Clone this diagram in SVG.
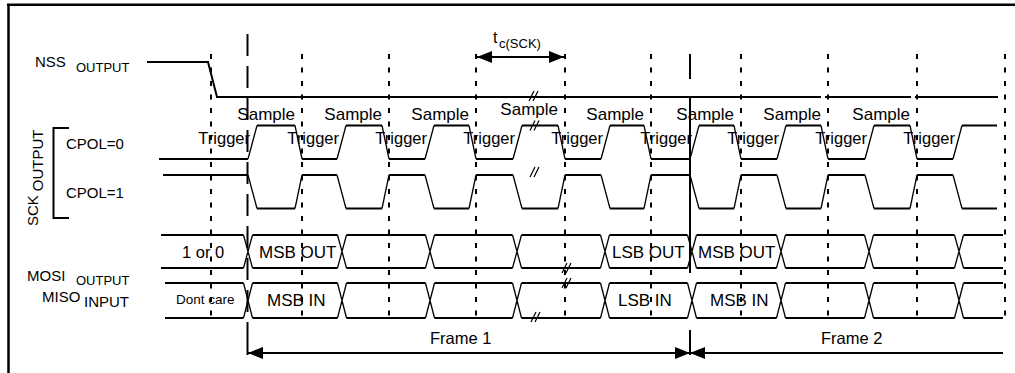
<svg xmlns="http://www.w3.org/2000/svg" width="1015" height="373" viewBox="0 0 1015 373">
<style>
text{font-family:"Liberation Sans",Arial,sans-serif;fill:#000}
.lbl{font-size:15px}
.sub{font-size:13px}
.sm{font-size:17px}
.tg{font-size:16.5px}
.dat{font-size:17px}
.h{fill:none;stroke:#000;stroke-width:2}
.e{fill:none;stroke:#000;stroke-width:1.3}
.dot{stroke:#000;stroke-width:2;stroke-dasharray:5 8.5}
.dash{stroke:#000;stroke-width:2;stroke-dasharray:22 10}
.sol{stroke:#000;stroke-width:2}
.brk{fill:none;stroke:#000;stroke-width:1.2}
.arr{stroke:#000;stroke-width:2;fill:none}
</style>
<defs>
<marker id="ah" markerUnits="userSpaceOnUse" markerWidth="15" markerHeight="12" refX="15" refY="6" orient="auto-start-reverse">
<path d="M0,0 L15,6 L0,12 z" fill="#000"/>
</marker>
<path id="brk" class="brk" d="M-5,5 L0,-5 M-1,5 L4,-5"/>
</defs>

<g id="border">
<path d="M7,4.7 H1015 M8.5,3.5 V373" fill="none" stroke="#000" stroke-width="2.5"/>
</g>

<g id="guides">
<line class="dot" x1="211" y1="54" x2="211" y2="318"/>
<line class="dot" x1="302" y1="54" x2="302" y2="318"/>
<line class="dot" x1="389" y1="54" x2="389" y2="318"/>
<line class="dot" x1="476" y1="54" x2="476" y2="318"/>
<line class="dot" x1="565" y1="54" x2="565" y2="318"/>
<line class="dot" x1="651" y1="54" x2="651" y2="318"/>
<line class="dot" x1="741" y1="54" x2="741" y2="318"/>
<line class="dot" x1="828" y1="54" x2="828" y2="318"/>
<line class="dot" x1="917" y1="54" x2="917" y2="318"/>
<line class="dot" x1="1005" y1="54" x2="1005" y2="318"/>
<line class="dash" x1="247.5" y1="34" x2="247.5" y2="330"/>
<line class="sol" x1="247.5" y1="330" x2="247.5" y2="355"/>
<path class="sol" d="M690,54 V79 M690,97 V273 M690,330 V355"/>
</g>

<g id="nss">
<text class="lbl" x="35" y="67">NSS<tspan class="sub" x="76" y="72">OUTPUT</tspan></text>
<path class="h" d="M147,62 H208 L217,97 H821 M825,97 H911 M915,97 H998"/>
<use href="#brk" x="534" y="96"/>
</g>

<g id="sck">
<text class="lbl" transform="translate(38,226) rotate(-90)">SCK<tspan class="lbl" dx="4" dy="5">OUTPUT</tspan></text>
<path class="h" d="M69,128 H53.5 V218 H69"/>
<text class="lbl" x="66" y="149">CPOL=0</text>
<text class="lbl" x="66" y="198">CPOL=1</text>
<path class="h" d="M159,159H248 M257,125.5H295 M302,159H337 M346,125.5H382 M389,159H425 M434,125.5H469 M476,159H513 M522,125.5H558 M565,159H601 M610,125.5H644 M651,159H690 M699,125.5H734 M741,159H777 M786,125.5H821 M828,159H865 M874,125.5H910 M917,159H953 M962,125.5H997"/>
<path class="e" d="M248,159L257,125.5 M295,125.5L302,159 M337,159L346,125.5 M382,125.5L389,159 M425,159L434,125.5 M469,125.5L476,159 M513,159L522,125.5 M558,125.5L565,159 M601,159L610,125.5 M644,125.5L651,159 M690,159L699,125.5 M734,125.5L741,159 M777,159L786,125.5 M821,125.5L828,159 M865,159L874,125.5 M910,125.5L917,159 M953,159L962,125.5"/>
<path class="h" d="M163,175H248 M257,208.5H295 M302,175H337 M346,208.5H382 M389,175H425 M434,208.5H469 M476,175H513 M522,208.5H558 M565,175H601 M610,208.5H644 M651,175H690 M699,208.5H734 M741,175H777 M786,208.5H821 M828,175H865 M874,208.5H910 M917,175H953 M962,208.5H997"/>
<path class="e" d="M248,175L257,208.5 M295,208.5L302,175 M337,175L346,208.5 M382,208.5L389,175 M425,175L434,208.5 M469,208.5L476,175 M513,175L522,208.5 M558,208.5L565,175 M601,175L610,208.5 M644,208.5L651,175 M690,175L699,208.5 M734,208.5L741,175 M777,175L786,208.5 M821,208.5L828,175 M865,175L874,208.5 M910,208.5L917,175 M953,175L962,208.5"/>
<use href="#brk" x="535" y="125.5"/>
<use href="#brk" x="535" y="172"/>
<g class="sm">
<text text-anchor="end" x="295" y="120">Sample</text>
<text text-anchor="end" x="382" y="120">Sample</text>
<text text-anchor="end" x="469" y="120">Sample</text>
<text text-anchor="end" x="558" y="115">Sample</text>
<text text-anchor="end" x="644" y="120">Sample</text>
<text text-anchor="end" x="734" y="120">Sample</text>
<text text-anchor="end" x="821" y="120">Sample</text>
<text text-anchor="end" x="910" y="120">Sample</text>
</g>
<g class="tg">
<text text-anchor="end" x="250" y="144">Trigger</text>
<text text-anchor="end" x="339" y="144">Trigger</text>
<text text-anchor="end" x="427" y="144">Trigger</text>
<text text-anchor="end" x="515" y="144">Trigger</text>
<text text-anchor="end" x="603" y="144">Trigger</text>
<text text-anchor="end" x="692" y="144">Trigger</text>
<text text-anchor="end" x="779" y="144">Trigger</text>
<text text-anchor="end" x="867" y="144">Trigger</text>
<text text-anchor="end" x="955" y="144">Trigger</text>
</g>
</g>

<g id="mosi">
<text class="lbl" x="27" y="281">MOSI<tspan class="sub" x="76" y="285">OUTPUT</tspan></text>
<path class="h" d="M161,235H243.5 M161,268H243.5 M252.5,235H337.5 M252.5,268H337.5 M346.5,235H425.5 M346.5,268H425.5 M434.5,235H512.5 M434.5,268H512.5 M521.5,235H600.5 M521.5,268H600.5 M609.5,235H687.5 M609.5,268H687.5 M696.5,235H776.5 M696.5,268H776.5 M785.5,235H864.5 M785.5,268H864.5 M873.5,235H954.5 M873.5,268H954.5 M963.5,235H1003 M963.5,268H1003"/>
<path class="e" d="M243.5,235L252.5,268M243.5,268L252.5,235 M337.5,235L346.5,268M337.5,268L346.5,235 M425.5,235L434.5,268M425.5,268L434.5,235 M512.5,235L521.5,268M512.5,268L521.5,235 M600.5,235L609.5,268M600.5,268L609.5,235 M687.5,235L696.5,268M687.5,268L696.5,235 M776.5,235L785.5,268M776.5,268L785.5,235 M864.5,235L873.5,268M864.5,268L873.5,235 M954.5,235L963.5,268M954.5,268L963.5,235"/>
<use href="#brk" x="567" y="268"/>
<text class="dat" x="182" y="258" style="font-size:16.5px">1 or 0</text>
<text class="dat" x="259" y="258">MSB OUT</text>
<text class="dat" x="612" y="258">LSB OUT</text>
<text class="dat" x="698" y="258">MSB OUT</text>
</g>

<g id="miso">
<text class="lbl" x="42" y="302">MISO<tspan class="lbl" x="84" y="307">INPUT</tspan></text>
<path class="h" d="M165,283H243.5 M165,318H243.5 M252.5,283H337.5 M252.5,318H337.5 M346.5,283H425.5 M346.5,318H425.5 M434.5,283H512.5 M434.5,318H512.5 M521.5,283H600.5 M521.5,318H600.5 M609.5,283H687.5 M609.5,318H687.5 M696.5,283H776.5 M696.5,318H776.5 M785.5,283H864.5 M785.5,318H864.5 M873.5,283H954.5 M873.5,318H954.5 M963.5,283H1003 M963.5,318H1003"/>
<path class="e" d="M243.5,283L252.5,318M243.5,318L252.5,283 M337.5,283L346.5,318M337.5,318L346.5,283 M425.5,283L434.5,318M425.5,318L434.5,283 M512.5,283L521.5,318M512.5,318L521.5,283 M600.5,283L609.5,318M600.5,318L609.5,283 M687.5,283L696.5,318M687.5,318L696.5,283 M776.5,283L785.5,318M776.5,318L785.5,283 M864.5,283L873.5,318M864.5,318L873.5,283 M954.5,283L963.5,318M954.5,318L963.5,283"/>
<use href="#brk" x="567" y="283"/>
<use href="#brk" x="536" y="317"/>
<text x="176" y="304" style="font-size:13.5px">Dont care</text>
<text class="dat" x="267" y="306">MSB IN</text>
<text class="dat" x="618" y="306">LSB IN</text>
<text class="dat" x="710" y="306">MSB IN</text>
</g>

<g id="connectors">
<line class="arr" x1="477" y1="57" x2="564" y2="57" marker-start="url(#ah)" marker-end="url(#ah)"/>
<line class="arr" x1="248" y1="353" x2="690" y2="353" marker-start="url(#ah)" marker-end="url(#ah)"/>
<line class="arr" x1="690" y1="353" x2="1003" y2="353" marker-start="url(#ah)"/>
</g>

<g id="labels">
<text x="493" y="43" style="font-size:16px">t<tspan x="499" y="48" style="font-size:13px">c(SCK)</tspan></text>
<text x="430" y="344" style="font-size:16.5px">Frame 1</text>
<text x="821" y="344" style="font-size:16.5px">Frame 2</text>
</g>
</svg>
